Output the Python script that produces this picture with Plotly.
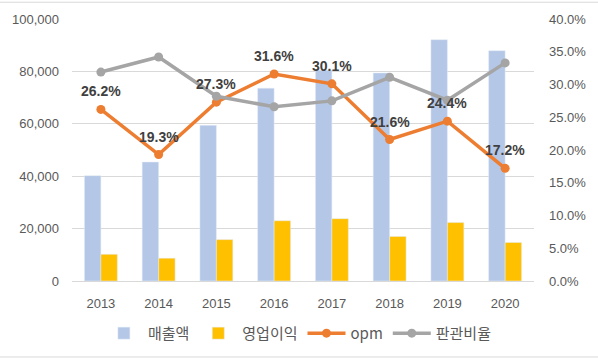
import plotly.graph_objects as go

years = ["2013", "2014", "2015", "2016", "2017", "2018", "2019", "2020"]
sales = [40200, 45400, 59400, 73600, 80400, 79400, 92100, 87900]
op_income = [10200, 8700, 15800, 23000, 23800, 17000, 22300, 14700]
opm = [26.2, 19.3, 27.3, 31.6, 30.1, 21.6, 24.4, 17.2]
sga_ratio = [31.9, 34.2, 28.2, 26.6, 27.5, 31.1, 27.6, 33.3]

FONT = "Liberation Sans, Arial, sans-serif"
KFONT = "Noto Sans CJK KR, Liberation Sans, sans-serif"

xs = list(range(len(years)))

fig = go.Figure()
fig.add_trace(go.Bar(x=xs, y=sales, name="매출액", marker_color="#B4C7E7"))
fig.add_trace(go.Bar(x=xs, y=op_income, name="영업이익", marker_color="#FFC000"))
fig.add_trace(go.Scatter(x=xs, y=[v / 100 for v in opm], name="opm", yaxis="y2",
                         mode="lines+markers", line=dict(color="#ED7D31", width=3.5),
                         marker=dict(size=9, color="#ED7D31")))
fig.add_trace(go.Scatter(x=xs, y=[v / 100 for v in sga_ratio], name="판관비율", yaxis="y2",
                         mode="lines+markers", line=dict(color="#A5A5A5", width=3.5),
                         marker=dict(size=9, color="#A5A5A5")))

for xi, v in zip(xs, opm):
    fig.add_annotation(x=xi, y=v / 100, xref="x", yref="y2", text=f"{v}%", showarrow=False,
                       yshift=18, font=dict(family=FONT, size=14, color="#404040", weight="bold"))

fig.update_layout(
    width=598, height=362,
    margin=dict(l=71, r=63, t=18, b=79),
    paper_bgcolor="white", plot_bgcolor="white",
    barmode="group", bargap=0.43, bargroupgap=0,
    font=dict(family=FONT, size=13, color="#595959"),
    xaxis=dict(range=[-0.5, len(years) - 0.5], tickvals=xs, ticktext=years,
               showgrid=False, zeroline=False, showline=True, linecolor="#D9D9D9",
               linewidth=1, ticks="", ticklabelstandoff=10,
               tickfont=dict(size=13, color="#595959")),
    yaxis=dict(range=[0, 100000], dtick=20000, tickformat=",", showgrid=True,
               gridcolor="#D9D9D9", gridwidth=1, zeroline=False, showline=False,
               ticks="", ticklabelstandoff=12, tickfont=dict(size=13, color="#595959")),
    yaxis2=dict(range=[0, 0.4], dtick=0.05, tickformat=".1%", overlaying="y", side="right",
                showgrid=False, zeroline=False, showline=False, ticks="",
                ticklabelstandoff=14, tickfont=dict(size=13, color="#595959")),
    legend=dict(orientation="h", x=0.49, xanchor="center", y=-0.2, yanchor="middle",
                font=dict(family=KFONT, size=15, color="#595959"),
                itemwidth=38, traceorder="normal"),
    showlegend=True,
)

fig.add_shape(type="line", xref="paper", yref="paper", x0=-0.2, x1=1.2, y0=1.064, y1=1.064,
              line=dict(color="#D9D9D9", width=1))
fig.add_shape(type="line", xref="paper", yref="paper", x0=-0.2, x1=1.2, y0=-0.29, y1=-0.29,
              line=dict(color="#D9D9D9", width=1))

fig.write_html("out.html", config={"displayModeBar": False},
               post_script="document.body.style.margin='0';")
